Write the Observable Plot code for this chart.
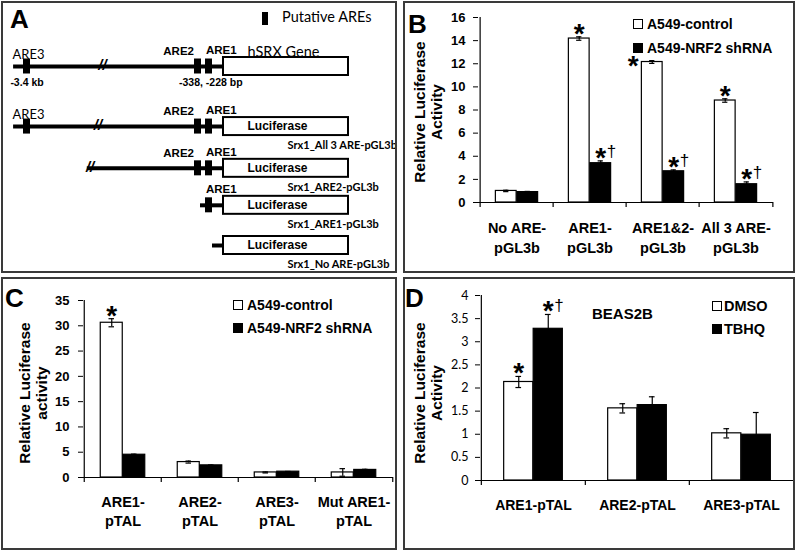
<!DOCTYPE html>
<html><head><meta charset="utf-8">
<script src="https://cdn.jsdelivr.net/npm/d3@7"></script>
<script src="https://cdn.jsdelivr.net/npm/@observablehq/plot@0.6"></script>
<style>
body{margin:0;background:#fff;}
#fig{position:relative;width:800px;height:552px;overflow:hidden;font-family:'Liberation Sans',Arial,Helvetica,sans-serif;color:#000;background:#fff;}
.plotwrap{position:absolute;}
.plotwrap svg{display:block;overflow:visible;}
.box{position:absolute;border:2px solid #3a3a3a;box-sizing:border-box;pointer-events:none;}
.letter{position:absolute;font-weight:bold;font-size:26px;line-height:26px;}
.leg{position:absolute;display:flex;align-items:center;height:16px;font-weight:bold;font-size:14px;white-space:nowrap;}
.sw{display:inline-block;width:8px;height:8px;border:1px solid #000;margin-right:4px;}
.ytitle{position:absolute;width:200px;height:34px;transform:rotate(-90deg);text-align:center;font-weight:bold;font-size:15.5px;line-height:17px;white-space:nowrap;}
</style></head>
<body><div id="fig"></div>
<script>
// ---------------- Panel A: construct schematic ----------------
const aConstructs = ["hSRX Gene", "Srx1_All 3 ARE-pGL3b", "Srx1_ARE2-pGL3b", "Srx1_ARE1-pGL3b", "Srx1_No ARE-pGL3b"];
const aTrack = [0, 1.51, 2.56, 3.49, 4.5];
const aLineStart = [-3640, -3640, -2320, -313, -173];
const aBreak = [-2050, -2130, -2270, null, null];
const aBoxText = ["", "Luciferase", "Luciferase", "Luciferase", "Luciferase"];
const aAreNames = ["ARE3", "ARE2", "ARE1"];
const aArePos = [-3400, -338, -228];
const aRowAres = [["ARE3","ARE2","ARE1"], ["ARE3","ARE2","ARE1"], ["ARE2","ARE1"], ["ARE1"], []];
const aGeneLength = 1000;
const aPosLabels = ["-3.4 kb", "-338, -228 bp"];
const aPosLabelAt = [-3400, -200];
const aLegend = "Putative AREs";

// ---------------- Panel B ----------------
const bCategories = ["No ARE-\npGL3b", "ARE1-\npGL3b", "ARE1&2-\npGL3b", "All 3 ARE-\npGL3b"];
const bSeries = ["A549-control", "A549-NRF2 shRNA"];
const bControl = [1.0, 14.18, 12.15, 8.82];
const bControlErr = [0.06, 0.15, 0.12, 0.15];
const bShrna = [0.9, 3.4, 2.7, 1.58];
const bShrnaErr = [0.06, 0.2, 0.12, 0.2];
const bControlMark = ["", "*", "*", "*"];
const bShrnaMark = ["", "*†", "*†", "*†"];
const bTicks = [0, 2, 4, 6, 8, 10, 12, 14, 16];
const bYTitle = ["Relative Luciferase", "Activity"];

// ---------------- Panel C ----------------
const cCategories = ["ARE1-\npTAL", "ARE2-\npTAL", "ARE3-\npTAL", "Mut ARE1-\npTAL"];
const cSeries = ["A549-control", "A549-NRF2 shRNA"];
const cControl = [30.6, 3.05, 1.0, 1.0];
const cControlErr = [0.8, 0.2, 0.1, 0.75];
const cShrna = [4.5, 2.4, 1.15, 1.5];
const cShrnaErr = [0.12, 0.08, 0.05, 0.12];
const cControlMark = ["*", "", "", ""];
const cShrnaMark = ["", "", "", ""];
const cTicks = [0, 5, 10, 15, 20, 25, 30, 35];
const cYTitle = ["Relative Luciferase", "activity"];

// ---------------- Panel D ----------------
const dCategories = ["ARE1-pTAL", "ARE2-pTAL", "ARE3-pTAL"];
const dSeries = ["DMSO", "TBHQ"];
const dDmso = [2.13, 1.56, 1.02];
const dDmsoErr = [0.12, 0.1, 0.1];
const dTbhq = [3.28, 1.63, 0.99];
const dTbhqErr = [0.31, 0.18, 0.48];
const dDmsoMark = ["*", "", ""];
const dTbhqMark = ["*†", "", ""];
const dTicks = [0, 0.5, 1, 1.5, 2, 2.5, 3, 3.5, 4];
const dYTitle = ["Relative Luciferase", "Activity"];
const dCellLine = "BEAS2B";

const ARIAL = "'Liberation Sans', Arial, Helvetica, sans-serif";
const CALIBRI = "Lato, 'Open Sans', sans-serif";
const fig = document.getElementById("fig");

function place(node, left, top) {
  const w = document.createElement("div");
  w.className = "plotwrap";
  w.style.left = left + "px";
  w.style.top = top + "px";
  w.appendChild(node);
  fig.appendChild(w);
}
function html(cls, left, top, content, extra) {
  const d = document.createElement("div");
  d.className = cls;
  d.style.left = left + "px";
  d.style.top = top + "px";
  if (extra) Object.assign(d.style, extra);
  d.innerHTML = content;
  fig.appendChild(d);
  return d;
}

// ---------- Panel A plot ----------
// schematic (broken, not-to-scale) bp axis
const aX = d3.scaleLinear().domain([-3400, -338, -228, 0, aGeneLength]).range([25.5, 196.5, 207.5, 222, 347]);
const aRows = aConstructs.map((name, i) => ({name, track: aTrack[i], start: aLineStart[i], brk: aBreak[i], boxText: aBoxText[i], row: i}));
const aSites = aRows.flatMap(r => aRowAres[r.row].map(a => ({name: a, pos: aArePos[aAreNames.indexOf(a)], track: r.track})));
const aPos = aPosLabels.map((t, i) => ({t, x: aPosLabelAt[i], track: aTrack[0]}));

const plotA = Plot.plot({
  width: 396, height: 272, margin: 0,
  style: {fontFamily: ARIAL, background: "transparent", color: "#000", overflow: "visible"},
  x: {domain: [0, 396], range: [0, 396], axis: null},
  y: {domain: [0, 4.5], range: [65, 244], axis: null},
  marks: [
    Plot.ruleY(aRows, {y: "track", x1: d => aX(d.start), x2: () => aX(0), stroke: "#000", strokeWidth: 4}),
    Plot.rect(aRows, {x1: () => aX(0), x2: () => aX(aGeneLength), y1: "track", y2: "track", insetTop: -9, insetBottom: -9, fill: "#fff", stroke: "#000", strokeWidth: 2}),
    Plot.rect(aSites, {x1: d => aX(d.pos), x2: d => aX(d.pos), y1: "track", y2: "track", insetLeft: -3.5, insetRight: -3.5, insetTop: -7.5, insetBottom: -7.5, fill: "#000"}),
    Plot.text(aRows.filter(r => r.brk != null), {x: d => aX(d.brk), y: "track", text: () => "//", fontSize: 15, fontWeight: "bold", fontStyle: "italic", dy: -1}),
    Plot.text(aSites.filter(s => s.name === "ARE3"), {x: d => aX(d.pos), y: "track", text: "name", dy: -12, dx: 1.5, fontSize: 13, fontFamily: CALIBRI}),
    Plot.text(aSites.filter(s => s.name === "ARE2"), {x: d => aX(d.pos), y: "track", text: "name", dy: -15, dx: -4, textAnchor: "end", fontSize: 11.5, fontWeight: "bold"}),
    Plot.text(aSites.filter(s => s.name === "ARE1"), {x: d => aX(d.pos), y: "track", text: "name", dy: -16, dx: -3, textAnchor: "start", fontSize: 11.5, fontWeight: "bold"}),
    Plot.text(aRows.filter(r => r.boxText), {x: () => aX(0), y: "track", text: "boxText", dx: 24, textAnchor: "start", fontSize: 12, fontWeight: "bold"}),
    Plot.text(aRows.filter(r => !r.boxText), {x: () => aX(0), y: "track", text: "name", dx: 24, dy: -14, textAnchor: "start", fontSize: 14.5, fontFamily: CALIBRI}),
    Plot.text(aRows.filter(r => r.boxText), {x: () => aX(0), y: "track", text: "name", dx: 64, dy: 19, textAnchor: "start", fontSize: 11, fontWeight: "bold", fontFamily: CALIBRI}),
    Plot.text(aPos, {x: d => aX(d.x), y: "track", text: "t", dy: 16, fontSize: 10.5, fontWeight: "bold"})
  ]
});
place(plotA, 1, 1);
html("letter", 10, 6, "A");
html("plotwrap", 262, 12, "", {width: "6px", height: "13px", background: "#000"});
html("leg", 282, 8, aLegend, {fontWeight: "normal", fontFamily: CALIBRI, fontSize: "14.5px"});

// ---------- grouped bar panels ----------
function groupedBars(cfg) {
  const {cats, v1, e1, v2, e2, m1, m2, ticks, ymax, width, height, mL, mR, mT, mB, barW,
         tickFont, tickWeight, tickFamily, tickPad, labelSize, labelDy, labelLH, sideStar = []} = cfg;
  const n = cats.length;
  const bw = (width - mL - mR) / n;
  const ph = height - mT - mB;
  const tickU = 5 * ymax / ph;
  const t1 = cats.map((c, i) => ({cat: c, value: v1[i], err: e1[i], mark: m1[i], side: sideStar.includes(c)}));
  const t2 = cats.map((c, i) => ({cat: c, value: v2[i], err: e2[i], mark: m2[i], side: false}));
  const off1 = -barW / 2, off2 = barW / 2, cap = 3;
  const errMarks = (t, off) => [
    Plot.ruleX(t, {x: "cat", y1: d => d.value - d.err, y2: d => d.value + d.err, dx: off, stroke: "#000", strokeWidth: 1.2}),
    Plot.tickY(t, {x: "cat", y: d => d.value + d.err, insetLeft: bw / 2 + off - cap, insetRight: bw / 2 - off - cap, stroke: "#000", strokeWidth: 1.2}),
    Plot.tickY(t, {x: "cat", y: d => d.value - d.err, insetLeft: bw / 2 + off - cap, insetRight: bw / 2 - off - cap, stroke: "#000", strokeWidth: 1.2})
  ];
  const starMarks = (t, off) => [
    Plot.text(t.filter(d => d.mark.includes("*") && !d.side), {x: "cat", y: d => d.value + d.err, text: () => "*", dx: off, dy: -3, fontSize: 28, fontWeight: "bold"}),
    Plot.text(t.filter(d => d.mark.includes("*") && d.side), {x: "cat", y: d => d.value + d.err, text: () => "*", dx: off - 19, dy: 5, fontSize: 28, fontWeight: "bold"}),
    Plot.text(t.filter(d => d.mark.includes("†")), {x: "cat", y: d => d.value + d.err, text: () => "†", dx: off + 6, dy: -9, fontSize: 17, textAnchor: "start"})
  ];
  return Plot.plot({
    width, height, marginLeft: mL, marginRight: mR, marginTop: mT, marginBottom: mB,
    style: {fontFamily: ARIAL, background: "transparent", color: "#000", overflow: "visible"},
    x: {domain: cats, padding: 0, axis: null},
    y: {domain: [0, ymax]},
    marks: [
      Plot.barY(t1, {x: "cat", y1: () => 0, y2: "value", fill: "#fff", stroke: "#000", strokeWidth: 1.2, insetLeft: bw / 2 - barW, insetRight: bw / 2}),
      Plot.barY(t2, {x: "cat", y1: () => 0, y2: "value", fill: "#000", stroke: "#000", strokeWidth: 1.2, insetLeft: bw / 2, insetRight: bw / 2 - barW}),
      ...errMarks(t1, off1), ...errMarks(t2, off2),
      Plot.ruleY([0], {stroke: "#000", strokeWidth: 1.2}),
      Plot.ruleX(cats, {x: d => d, dx: -bw / 2, y1: () => -tickU, y2: (d, i) => i === 0 ? ymax : 0, stroke: "#000", strokeWidth: 1.2}),
      Plot.ruleX([cats[n - 1]], {x: d => d, dx: bw / 2, y1: () => -tickU, y2: () => 0, stroke: "#000", strokeWidth: 1.2}),
      Plot.axisY({ticks, tickSize: 5, tickPadding: tickPad, tickFormat: d => String(d), label: null,
                  fontSize: tickFont, fontWeight: tickWeight, fontFamily: tickFamily}),
      Plot.text(cats, {x: d => d, y: () => 0, text: d => d, dy: labelDy, lineAnchor: "top", lineHeight: labelLH, fontSize: labelSize, fontWeight: "bold"}),
      ...starMarks(t1, off1), ...starMarks(t2, off2)
    ]
  });
}

function yTitle(lines, cx, cy) {
  html("ytitle", cx - 100, cy - 17, lines.join("<br>"));
}
function legend(series, left, ys, fontSize, gap) {
  series.forEach((s, i) => {
    html("leg", left, ys[i] - 8, `<span class="sw" style="background:${i === 0 ? "#fff" : "#000"};margin-right:${gap}px"></span>${s}`, {fontSize: fontSize + "px"});
  });
}

// Panel B
place(groupedBars({cats: bCategories, v1: bControl, e1: bControlErr, v2: bShrna, e2: bShrnaErr, m1: bControlMark, m2: bShrnaMark,
  ticks: bTicks, ymax: 16, width: 392, height: 272, mL: 75, mR: 22, mT: 16, mB: 71, barW: 21.5,
  tickFont: 13, tickWeight: "bold", tickFamily: ARIAL, tickPad: 8, labelSize: 14.5, labelDy: 16, labelLH: 1.38,
  sideStar: [bCategories[2]]}), 403, 1);
html("letter", 408, 11, "B");
yTitle(bYTitle, 427.5, 112);
legend(bSeries, 633, [24, 48], 14, 4);

// Panel C
place(groupedBars({cats: cCategories, v1: cControl, e1: cControlErr, v2: cShrna, e2: cShrnaErr, m1: cControlMark, m2: cShrnaMark,
  ticks: cTicks, ymax: 35, width: 396, height: 273, mL: 82, mR: 4, mT: 23, mB: 73, barW: 22.5,
  tickFont: 13, tickWeight: "bold", tickFamily: ARIAL, tickPad: 9, labelSize: 14.5, labelDy: 16, labelLH: 1.32}), 1, 277);
html("letter", 5, 285, "C");
yTitle(cYTitle, 32.5, 393);
legend(cSeries, 233, [305, 328], 14, 4);

// Panel D
place(groupedBars({cats: dCategories, v1: dDmso, e1: dDmsoErr, v2: dTbhq, e2: dTbhqErr, m1: dDmsoMark, m2: dTbhqMark,
  ticks: dTicks, ymax: 4, width: 392, height: 273, mL: 77, mR: 2, mT: 18, mB: 70, barW: 29.5,
  tickFont: 12.5, tickWeight: "normal", tickFamily: CALIBRI, tickPad: 7, labelSize: 14, labelDy: 18, labelLH: 1.2}), 403, 277);
html("letter", 405, 285, "D");
yTitle(dYTitle, 427.5, 393);
legend(dSeries, 712, [306, 329], 14.5, 2);
html("leg", 592, 305, dCellLine, {fontSize: "15px"});

// Panel borders
[[1, 1, 396, 272], [403, 1, 392, 272], [1, 277, 396, 273], [403, 277, 392, 273]].forEach(([l, t, w, h]) => {
  html("box", l, t, "", {width: w + "px", height: h + "px"});
});
</script></body></html>
